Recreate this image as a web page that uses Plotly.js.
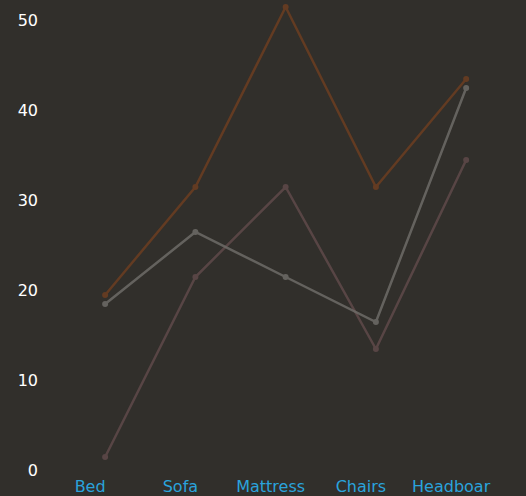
<!DOCTYPE html>
<html>
<head>
<meta charset="utf-8">
<script src="https://cdn.plot.ly/plotly-3.0.1.min.js"></script>
<style>html,body{margin:0;padding:0;background:#312f2b;}#chart{width:526px;height:496px;}</style>
</head>
<body>
<div id="chart"></div>
<script>
var categories = ["Bed", "Sofa", "Mattress", "Chairs", "Headboar"];
var seriesA = [19, 31, 51, 31, 43];
var seriesB = [18, 26, 21, 16, 42];
var seriesC = [1, 21, 31, 13, 34];
var yTicks = [0, 10, 20, 30, 40, 50];

function tr(y, color) {
  return {
    type: "scatter", mode: "lines+markers", x: categories, y: y,
    line: {color: color, width: 2.5},
    marker: {color: color, size: 6},
    opacity: 0.85, cliponaxis: false, hoverinfo: "none"
  };
}
var data = [tr(seriesC, "#5f4a4a"), tr(seriesB, "#6e6c68"), tr(seriesA, "#6c3e21")];
var layout = {
  width: 526, height: 496,
  paper_bgcolor: "#312f2b", plot_bgcolor: "#312f2b",
  margin: {l: 60, r: 0, t: 6, b: 30},
  showlegend: false,
  xaxis: {
    type: "category", range: [-0.5, 4.663], showgrid: false, zeroline: false, showline: false,
    ticks: "", tickfont: {family: "DejaVu Sans", size: 16, color: "#2aa3dc"},
    ticklabelshift: -15, ticklabelstandoff: 9
  },
  yaxis: {
    range: [0, 51.11], tickvals: yTicks, showgrid: false, zeroline: false, showline: false,
    ticks: "", ticklabelstandoff: 21, ticklabelshift: 4,
    tickfont: {family: "DejaVu Sans", size: 16, color: "#ffffff"}
  }
};
Plotly.newPlot("chart", data, layout, {displayModeBar: false, staticPlot: true});
</script>
</body>
</html>
